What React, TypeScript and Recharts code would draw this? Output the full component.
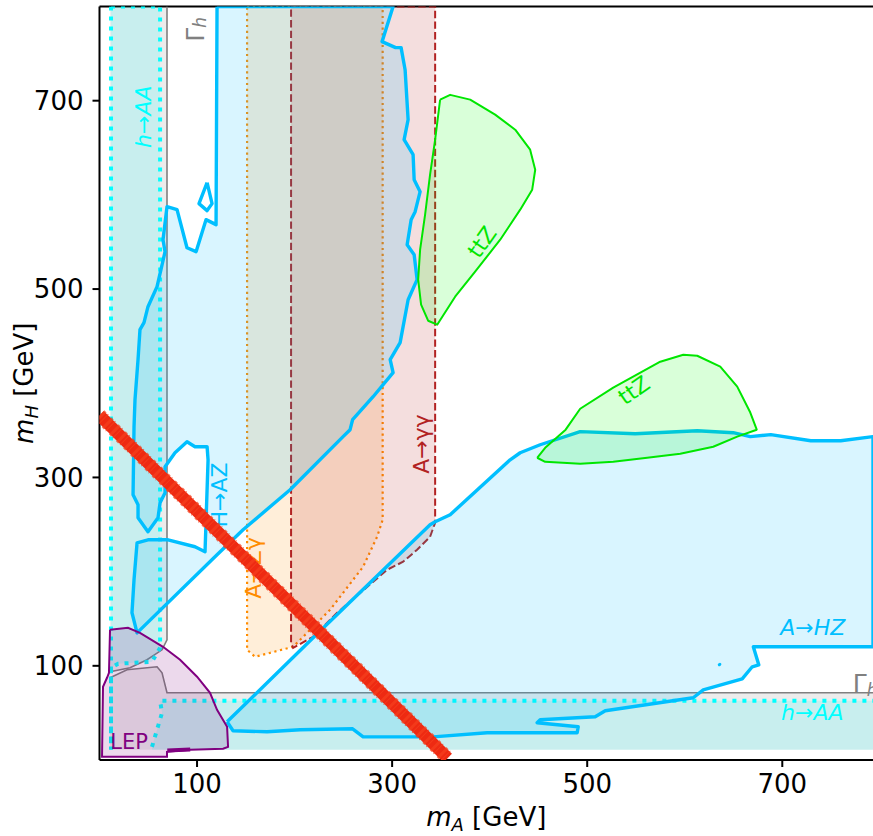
import React from "react";
import { ScatterChart, Scatter, XAxis, YAxis, ReferenceLine } from "recharts";

type P = [number, number];

// axes (GeV)
const X_TICKS = [100, 300, 500, 700];
const Y_TICKS = [100, 300, 500, 700];
const X_MAX = 793;
const Y_MAX = 800;

// Gamma_h exclusion
const gammaVert: P[] = [[10.8, 800], [69.2, 800], [69.2, 127.6], [64.1, 117], [48.7, 106.4], [31.3, 97.9], [10.8, 93.7]];
const gammaHorz: P[] = [[10.8, 87.3], [28.2, 95.8], [59, 99], [64.1, 92.6], [69.2, 71.4], [793, 71.4], [793, 10.8], [10.8, 10.8]];
const gammaLineA: P[] = [[69.2, 800], [69.2, 127.6], [64.1, 117], [48.7, 106.4], [31.3, 97.9], [10.8, 93.7]];
const gammaLineB: P[] = [[10.8, 87.3], [28.2, 95.8], [59, 99], [64.1, 92.6], [69.2, 71.4], [793, 71.4]];

// h -> AA
const hAAVert: P[] = [[11.8, 800], [62.1, 800], [62.1, 119.1], [53.8, 104.3], [19, 102.2], [11.8, 97.9], [11.8, 10.8]];
const hAAHorz: P[] = [[62.1, 62.9], [793, 62.9], [793, 10.8], [53.8, 10.8], [53.8, 14], [64.1, 50.1]];
const hAAHorzEdge: P[] = [[53.8, 14], [64.1, 50.1], [62.1, 62.9], [793, 62.9]];

// A -> Z gamma (orange)
const aZg: P[] = [[151.3, 800], [290.3, 800], [290.3, 255.1], [284.6, 237], [270.3, 205.2], [236.4, 159.5], [198.5, 120.2], [159.5, 109.6], [151.3, 117]];

// A -> gamma gamma
const aGG: P[] = [[196.4, 800], [344.1, 800], [344.1, 251.9], [338.9, 237], [325.6, 223.2], [311.3, 210.5], [294.9, 202], [243.6, 156.3], [219, 130.8], [198.5, 119.1], [196.4, 124.5]];

// H -> AZ
const hAZ: P[] = [
  [120.5, 800], [301, 800], [289.7, 762.7], [303.6, 756.3], [309.2, 756.3], [313.3, 732.9], [316.4, 679.9],
  [312.3, 658.6], [321.5, 642.7], [322.6, 616.1], [328.7, 603.4], [323.6, 582.2], [319.5, 573.7], [315.4, 547.1],
  [322.6, 536.5], [325.6, 510], [316.4, 488.7], [308.2, 443.1], [298, 425], [301, 411.2], [280.5, 385.7],
  [259.5, 361.4], [256.9, 350.7], [249.7, 343.3], [195.4, 286.9], [147.2, 244.5], [120.5, 217.9], [38.5, 135],
  [33.3, 156.3], [35.4, 191.4], [38.5, 230.6], [49.7, 233.8], [70.3, 233.8], [97.9, 226.4], [108.2, 221.1],
  [111.3, 318.7], [110.3, 332.6], [97.9, 332.6], [89.7, 337.9], [77.4, 326.2], [67.2, 311.3], [67.2, 283.7],
  [62.1, 273.1], [60, 257.2], [49.7, 242.3], [39.5, 257.2], [39.5, 271], [34.4, 281.6], [35.4, 353.9],
  [36.4, 382.6], [39.5, 425], [41.5, 456.9], [45.6, 464.3], [49.7, 481.3], [59, 502.6], [67.2, 539.7],
  [65.1, 552.4], [69.2, 587.5], [79.5, 584.3], [89.7, 543.9], [99, 539.7], [109.2, 573.7], [119.5, 568.4],
];
const hAZIsland: P[] = [[110.3, 612.9], [102, 590.7], [110.3, 583.3], [115.4, 590.7]];

// A -> HZ
const aHZ: P[] = [
  [130.8, 40.6], [219, 129.7], [280.5, 191.4], [338.9, 249.8], [344.1, 252.9], [359.5, 260.4], [421, 318.7],
  [431.3, 326.2], [451.8, 334.7], [492.8, 348.6], [549.2, 346.4], [612.8, 349.6], [649.7, 347.5], [667.2, 343.3],
  [688.2, 345.4], [729.2, 339], [759.9, 339], [793, 343.3], [793, 120.2], [670.3, 120.2], [675.9, 101.1],
  [669.2, 99], [658.9, 86.2], [619, 74.5], [608.7, 66.1], [518.5, 52.3], [508.2, 45.9], [451.8, 42.7],
  [448.7, 39.5], [490.8, 35.3], [489.7, 28.9], [397.4, 28.9], [342.1, 24.6], [270.3, 24.6], [259.5, 33.1],
  [205.6, 32.1], [171.8, 30], [136.9, 31],
];
const aHZSpeck: P[] = [[635.4, 101.1], [636, 101.6]];

// ttZ
const ttzHigh: P[] = [
  [349.2, 701.1], [359.5, 706.2], [380, 701.1], [405.6, 685.2], [426.2, 669.2], [441.5, 648], [446.7, 626.7],
  [443.6, 605.5], [431.3, 584.3], [410.8, 552.4], [385.1, 518.5], [364.6, 491.9], [346.2, 462.2], [336.9, 466.4],
  [329.7, 483.4], [326.7, 510], [328.7, 541.8], [333.8, 579], [338.9, 621.4], [344.1, 658.6],
];
const ttzLow: P[] = [
  [448.7, 320.9], [456.9, 331.5], [477.9, 350.7], [492.8, 372.9], [526.7, 395.3], [574.9, 422.9], [598.5, 430.3],
  [612.8, 429.2], [636.4, 417.6], [653.8, 396.4], [667.2, 368.9], [673.8, 350.7], [653.8, 343.3], [629.2, 332.6],
  [595.4, 325.2], [561.5, 320.9], [526.7, 316.6], [492.8, 314.5], [456.9, 316.6],
];

// LEP
const lep: P[] = [
  [10.8, 138.2], [29.2, 140.4], [41.5, 135], [65.1, 120.2], [82.6, 106.4], [100, 88.4], [113.3, 71.4],
  [120.5, 53.3], [130.8, 35.3], [131.8, 14], [126.7, 11.9], [92.8, 10.8], [69.2, 8.7], [69.2, 3.4],
  [2.6, 3.4], [3.6, 77.7], [7.7, 87.3], [9.7, 92.6],
];
const lepMark: P[] = [[69.5, 10.2], [93, 11.2]];

// mH + mA line
const sumLine: P[] = [[0, 366], [357, 2]];

const BLUE = "#00bfff";
const GREEN = "#00e600";
const CYAN = "#00ffff";
const ORANGE = "#ff8c00";
const BRICK = "#b22222";
const PURPLE = "#800080";
const GRAY = "#808080";
const RED = "#ee2a12";
const FONT = "DejaVu Sans, Liberation Sans, sans-serif";

const noDot = () => null;
const toXY = (pts: P[]) => pts.map(([x, y]) => ({ x, y }));

function area(key: string, pts: P[], style: Record<string, unknown>) {
  return (
    <Scatter
      key={key}
      data={toXY([...pts, pts[0]])}
      line={style}
      lineType="joint"
      shape={noDot}
      isAnimationActive={false}
    />
  );
}

function path(key: string, pts: P[], style: Record<string, unknown>) {
  return (
    <Scatter
      key={key}
      data={toXY(pts)}
      line={{ fill: "none", ...style }}
      lineType="joint"
      shape={noDot}
      isAnimationActive={false}
    />
  );
}

function tag(key: string, at: P, draw: (cx: number, cy: number) => React.ReactElement) {
  return (
    <Scatter
      key={key}
      data={[{ x: at[0], y: at[1] }]}
      shape={(p: any) => draw(p.cx, p.cy)}
      isAnimationActive={false}
    />
  );
}

const txt = (color: string, size: number, rot: number, italic = false) => (cx: number, cy: number, body: React.ReactNode, anchor = "middle") => (
  <text
    x={cx}
    y={cy}
    fill={color}
    fontSize={size}
    fontFamily={FONT}
    fontStyle={italic ? "italic" : "normal"}
    textAnchor={anchor}
    dominantBaseline="central"
    transform={rot ? `rotate(${rot} ${cx} ${cy})` : undefined}
  >
    {body}
  </text>
);

const XTitle = (props: any) => {
  const vb = props.viewBox || { x: 99.5, y: 760, width: 773.5 };
  const x = vb.x + vb.width / 2;
  return (
    <text x={x} y={vb.y + 66} textAnchor="middle" fontSize={26} fontFamily={FONT} fill="#000">
      <tspan fontStyle="italic">m</tspan>
      <tspan fontStyle="italic" fontSize={18} dy={5}>A</tspan>
      <tspan dy={-5}> [GeV]</tspan>
    </text>
  );
};

const YTitle = (props: any) => {
  const vb = props.viewBox || { y: 6.5, height: 753.5 };
  const cy = vb.y + vb.height / 2;
  return (
    <text x={33} y={cy} textAnchor="middle" fontSize={26} fontFamily={FONT} fill="#000" transform={`rotate(-90 33 ${cy})`}>
      <tspan fontStyle="italic">m</tspan>
      <tspan fontStyle="italic" fontSize={18} dy={5}>H</tspan>
      <tspan dy={-5}> [GeV]</tspan>
    </text>
  );
};

export default function App() {
  const fill = (c: string) => ({ fill: c, fillOpacity: 0.15 });
  return (
    <div style={{ position: "absolute", left: 0, top: 0, background: "#fff" }}>
      <ScatterChart width={873} height={836} margin={{ top: 6.5, right: 0, bottom: 0, left: 0 }}>
        <XAxis
          type="number"
          dataKey="x"
          domain={[0, X_MAX]}
          ticks={X_TICKS}
          allowDataOverflow
          height={76}
          tickSize={7}
          tickMargin={8}
          stroke="#000"
          strokeWidth={2}
          tick={{ fontSize: 26, fill: "#000", fontFamily: FONT }}
          label={<XTitle />}
        />
        <YAxis
          type="number"
          dataKey="y"
          domain={[0, Y_MAX]}
          ticks={Y_TICKS}
          allowDataOverflow
          width={99.5}
          tickSize={7}
          tickMargin={9}
          stroke="#000"
          strokeWidth={2}
          tick={{ fontSize: 26, fill: "#000", fontFamily: FONT }}
          label={<YTitle />}
        />

        {area("gV", gammaVert, { ...fill(GRAY), stroke: "none" })}
        {area("gH", gammaHorz, { ...fill(GRAY), stroke: "none" })}
        {path("gLA", gammaLineA, { stroke: GRAY, strokeWidth: 1.6 })}
        {path("gLB", gammaLineB, { stroke: GRAY, strokeWidth: 1.6 })}

        {area("hV", hAAVert, { ...fill(CYAN), stroke: CYAN, strokeWidth: 4, strokeDasharray: "4 6" })}
        {area("hH", hAAHorz, { ...fill(CYAN), stroke: "none" })}
        {path("hHe", hAAHorzEdge, { stroke: CYAN, strokeWidth: 4, strokeDasharray: "4 6" })}

        {area("azg", aZg, { ...fill(ORANGE), stroke: ORANGE, strokeWidth: 2.2, strokeDasharray: "2.2 3.6" })}
        {area("agg", aGG, { ...fill(BRICK), stroke: BRICK, strokeWidth: 2, strokeDasharray: "7.4 3.2" })}

        {area("haz", hAZ, { ...fill(BLUE), stroke: BLUE, strokeWidth: 3.4, strokeLinejoin: "round" })}
        {area("hazI", hAZIsland, { fill: "none", stroke: BLUE, strokeWidth: 3.4, strokeLinejoin: "round" })}
        {area("ahz", aHZ, { ...fill(BLUE), stroke: BLUE, strokeWidth: 3.4, strokeLinejoin: "round" })}
        {path("ahzS", aHZSpeck, { stroke: BLUE, strokeWidth: 3, strokeLinecap: "round" })}

        {area("ttzH", ttzHigh, { ...fill("lime"), stroke: GREEN, strokeWidth: 2, strokeLinejoin: "round" })}
        {area("ttzL", ttzLow, { ...fill("lime"), stroke: GREEN, strokeWidth: 2, strokeLinejoin: "round" })}

        {area("lep", lep, { ...fill(PURPLE), stroke: PURPLE, strokeWidth: 2 })}
        {path("lepM", lepMark, { stroke: PURPLE, strokeWidth: 4 })}

        {tag("lh1", [45.6, 683], (x, y) => txt(CYAN, 22, -90, true)(x, y, "h→AA"))}
        {tag("lh2", [730.8, 50.1], (x, y) => txt(CYAN, 22, 0, true)(x, y, "h→AA"))}
        {tag("lg1", [98, 762.7], (x, y) =>
          txt(GRAY, 25, -90)(x, y, [<tspan key="a">Γ</tspan>, <tspan key="b" fontStyle="italic" fontSize={17} dy={5}>h</tspan>], "start"))}
        {tag("lg2", [772.3, 82], (x, y) =>
          txt(GRAY, 25, 0)(x, y, [<tspan key="a">Γ</tspan>, <tspan key="b" fontStyle="italic" fontSize={17} dy={7}>h</tspan>], "start"))}
        {tag("laz", [122.6, 281.5], (x, y) => txt(BLUE, 22, -90)(x, y, "H→AZ"))}
        {tag("lhz", [731.3, 140.3], (x, y) => txt(BLUE, 22, 0, true)(x, y, "A→HZ"))}
        {tag("lzg", [157.4, 204], (x, y) => txt(ORANGE, 22, -90)(x, y, "A→Zγ"))}
        {tag("lgg", [329.7, 335.6], (x, y) => txt(BRICK, 22, -90)(x, y, "A→γγ"))}
        {tag("lt1", [392.3, 550], (x, y) => txt(GREEN, 22, -55)(x, y, "ttZ"))}
        {tag("lt2", [548, 392.5], (x, y) => txt(GREEN, 22, -35)(x, y, "ttZ"))}
        {tag("llep", [30.3, 18.6], (x, y) => txt(PURPLE, 21, 0)(x, y, "LEP"))}

        {path("sum", sumLine, { stroke: RED, strokeWidth: 12 })}
        {path("sumE", sumLine, { stroke: "#f5401e", strokeWidth: 14, strokeDasharray: "3 2 1 4", strokeOpacity: 0.7 })}

        <ReferenceLine y={Y_MAX} stroke="#000" strokeWidth={2} ifOverflow="extendDomain" />
      </ScatterChart>
    </div>
  );
}
